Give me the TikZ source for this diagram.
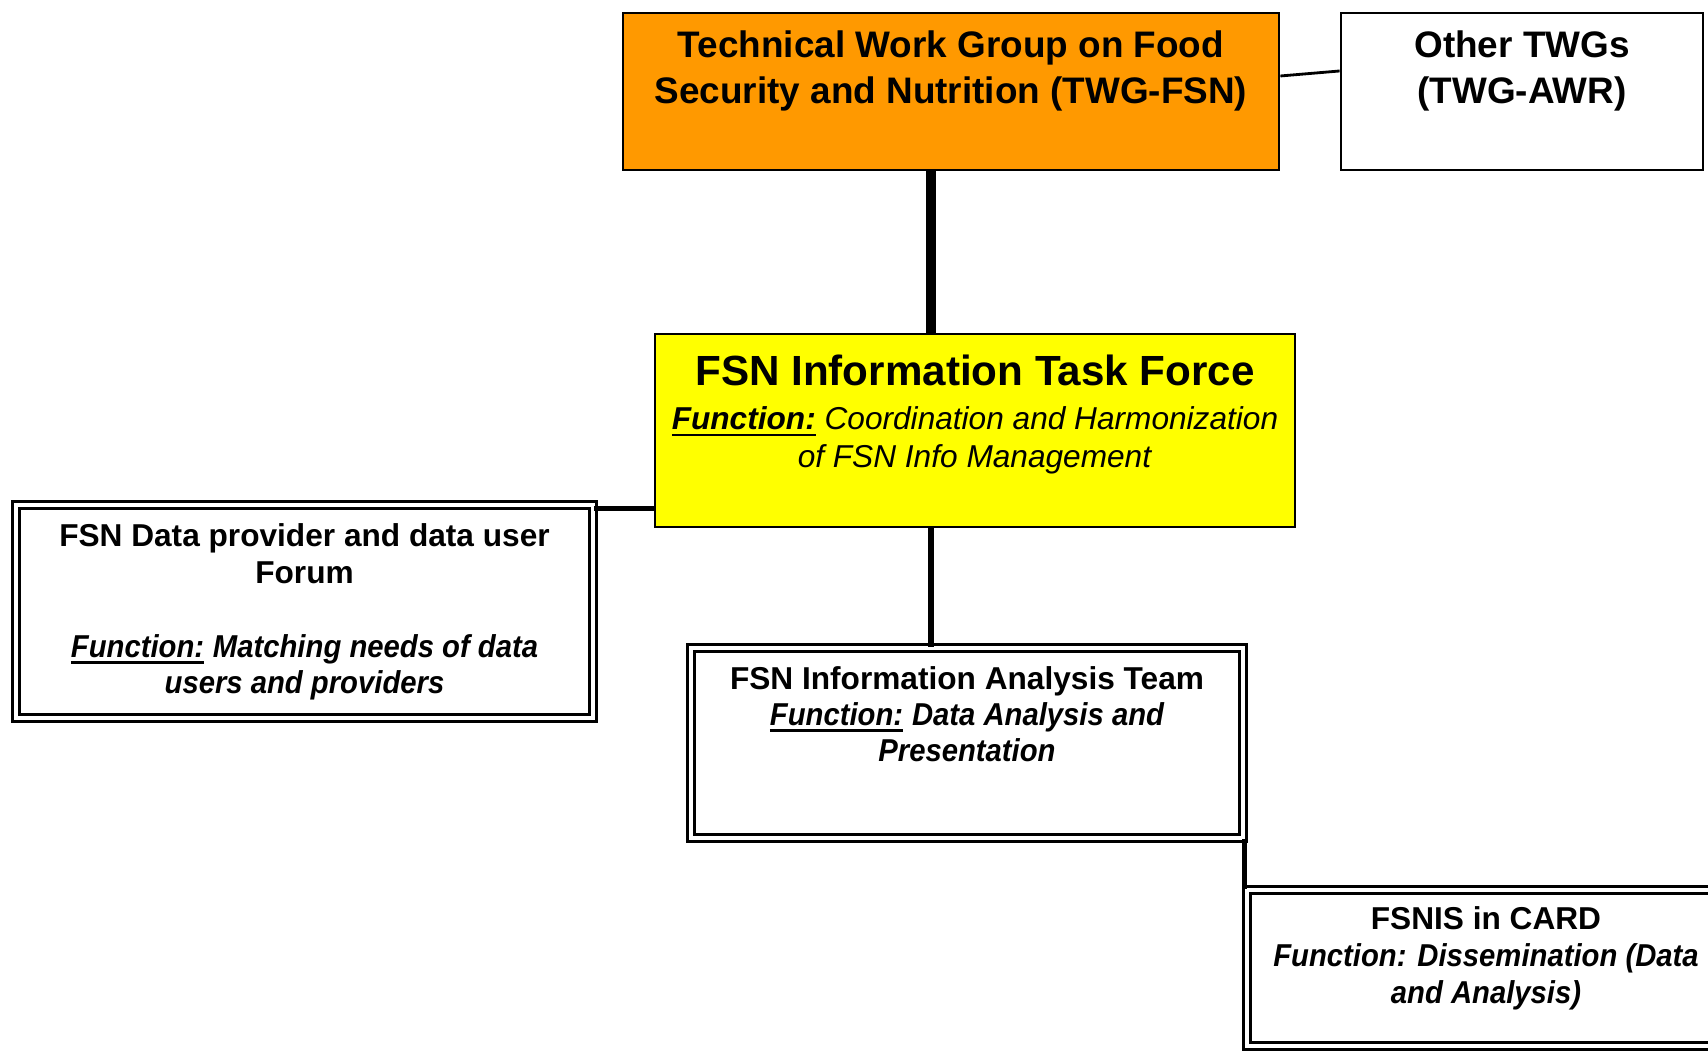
\documentclass[tikz,border=0pt]{standalone}
\usepackage{fontspec}
\setmainfont{Liberation Sans}
\newfontfamily\narrowsans[FakeStretch=0.925]{Liberation Sans}
\usepackage{tikz}
\usetikzlibrary{positioning}
\definecolor{twgorange}{HTML}{FF9900}
\definecolor{tfyellow}{HTML}{FFFF00}
\tikzstyle{plainbox} = [rectangle, draw=black, line width=0.8pt]
\tikzstyle{dblbox} = [rectangle, draw=black, double, double distance=1.3pt, line width=0.7pt]
\tikzstyle{boxtext} = [inner sep=0pt, align=center, font=\bfseries\fontsize{9}{10.5}\selectfont]
\tikzstyle{spineline} = [line width=2.6pt]
\tikzstyle{midline} = [line width=1.5pt]
\tikzstyle{thinline} = [line width=0.8pt]
\newcommand{\fnlabel}{\setbox0\hbox{\textbf{\textit{Function:}}}\rlap{\rule[-1.9pt]{\wd0}{0.75pt}}\box0}
\newcommand{\nbi}[1]{{\narrowsans\bfseries\itshape #1}}

\begin{document}
\begin{tikzpicture}
            \useasboundingbox (0,0) rectangle (17.08,-10.52);
            \clip (0,0) rectangle (17.08,-10.52);
            % boxes
            \node[plainbox, fill=twgorange, minimum width=6.56cm, minimum height=1.57cm] (twg) at (9.51,-0.915) {};
            \node[plainbox, fill=white, minimum width=3.62cm, minimum height=1.57cm] (other) at (15.22,-0.915) {};
            \node[plainbox, fill=tfyellow, minimum width=6.40cm, minimum height=1.93cm] (tf) at (9.75,-4.305) {};
            \node[dblbox, minimum width=5.77cm, minimum height=2.13cm] (forum) at (3.045,-6.115) {};
            \node[dblbox, minimum width=5.52cm, minimum height=1.90cm] (ana) at (9.67,-7.43) {};
            \node[dblbox, minimum width=4.78cm, minimum height=1.56cm] (fsnis) at (14.86,-9.68) {};
            % texts
            \node[boxtext, font=\bfseries\fontsize{10.5}{13.3}\selectfont, below=0.18cm of twg.north] (twgtxt) {Technical Work Group on Food\\Security and Nutrition (TWG-FSN)};
            \node[boxtext, font=\bfseries\fontsize{10.5}{13.3}\selectfont, below=0.18cm of other.north] (othertxt) {Other TWGs\\(TWG-AWR)};
            \node[boxtext, font=\mdseries\fontsize{9}{10.7}\selectfont, below=0.22cm of tf.north] (tftxt) {{\bfseries\fontsize{12}{13}\selectfont FSN Information Task Force}\\[1.8pt]
                \fnlabel{} \textit{Coordination and Harmonization}\\ \textit{of FSN Info Management}};
            \node[boxtext, below=0.19cm of forum.north] (forumtxt) {FSN Data provider and data user\\Forum\\[10.5pt]
                {\narrowsans\fnlabel} \nbi{Matching needs of data}\\ \nbi{users and providers}};
            \node[boxtext, font=\bfseries\fontsize{9}{10.2}\selectfont, below=0.19cm of ana.north] (anatxt) {FSN Information Analysis Team\\
                {\narrowsans\fnlabel} \nbi{Data Analysis and}\\ \nbi{Presentation}};
            \node[boxtext, below=0.17cm of fsnis.north] (fsnistxt) {FSNIS in CARD\\
                \nbi{Function: Dissemination (Data}\\ \nbi{and Analysis)}};
            % connectors
            \coordinate (spine) at (9.31,0);
            \coordinate (fj) at ([yshift=-0.05cm]forum.north east);
            \draw[thinline] ([yshift=0.155cm]twg.east) -- ([yshift=0.205cm]other.west);
            \draw[spineline] (twg.south -| spine) -- (tf.north -| spine);
            \draw[midline] (tf.south -| spine) -- (ana.north -| spine);
            \draw[midline] (fj) -- (fj -| tf.west);
            \draw[midline] (ana.south east) -- (ana.south east |- fsnis.north);
        \end{tikzpicture}
\end{document}
